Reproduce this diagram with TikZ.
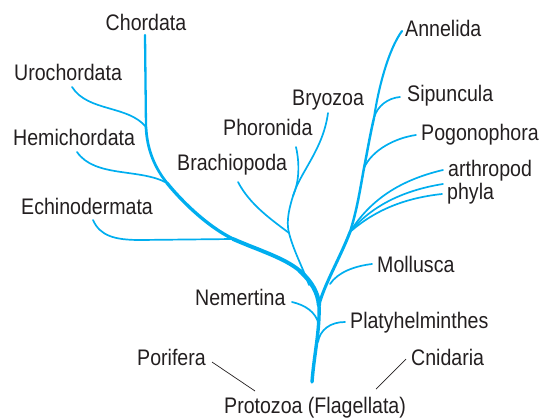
\documentclass[tikz,border=0pt]{standalone}
\usepackage{fontspec}
\setmainfont{Liberation Sans}[FakeStretch=0.87]
\definecolor{branch}{RGB}{0,174,239}
\definecolor{ink}{RGB}{35,31,32}
\begin{document}
\begin{tikzpicture}[x=1pt,y=-1pt,
  lbl/.style={inner sep=0pt, text=ink, font=\fontsize{22.5}{25}\selectfont},
  br/.style={draw=branch, line width=1.7pt, line cap=round, line join=round},
  pointer/.style={draw=ink, line width=0.7pt}]
\useasboundingbox (0,0) rectangle (541,418);

% labels
\node[lbl, anchor=base] (chord) at (146,30) {Chordata};
\node[lbl, anchor=base west] (uro) at (14,80.5) {Urochordata};
\node[lbl, anchor=base west] (hemi) at (13,145) {Hemichordata};
\node[lbl, anchor=base west] (echi) at (21,214) {Echinodermata};
\node[lbl, anchor=base west] (brach) at (177,170) {Brachiopoda};
\node[lbl, anchor=base west] (phor) at (223,135) {Phoronida};
\node[lbl, anchor=base west] (bryo) at (292,105) {Bryozoa};
\node[lbl, anchor=base west] (anne) at (405,36) {Annelida};
\node[lbl, anchor=base west] (sipu) at (407,101) {Sipuncula};
\node[lbl, anchor=base west] (pogo) at (421,140) {Pogonophora};
\node[lbl, anchor=base west] (arth) at (448,176.5) {arthropod};
\node[lbl, anchor=base west] (phyl) at (447,199) {phyla};
\node[lbl, anchor=base west] (moll) at (377,272) {Mollusca};
\node[lbl, anchor=base west] (neme) at (195,305) {Nemertina};
\node[lbl, anchor=base west] (plat) at (350,328) {Platyhelminthes};
\node[lbl, anchor=base west] (cnid) at (411,365) {Cnidaria};
\node[lbl, anchor=base west] (pori) at (137,365) {Porifera};
\node[lbl, anchor=base west] (prot) at (224,413) {Protozoa (Flagellata)};

% junctions and branch ends
\coordinate (top) at (145,35);
\coordinate (uj) at (146,127);
\coordinate (hj) at (167,183);
\coordinate (ej) at (233,239);
\coordinate (bj) at (309,285);
\coordinate (jn) at (319,305);
\coordinate (nj) at (318.5,324);
\coordinate (pj) at (318,342);
\coordinate (base) at (312,382);
\coordinate (mj) at (330,284);
\coordinate (aj) at (350,232);
\coordinate (gj) at (364,168);
\coordinate (sj) at (374,118);
\coordinate (ann) at (402,31);
\coordinate (brj) at (289,233);
\coordinate (pjn) at (293,196);

\coordinate (uroE) at (72,87);
\coordinate (hemiE) at (77,152);
\coordinate (echiE) at (93,220);
\coordinate (brachE) at (238,182);
\coordinate (phorE) at (296,147);
\coordinate (bryoE) at (328,113);
\coordinate (sipuE) at (400,97);
\coordinate (pogoE) at (416,135);
\coordinate (arthE1) at (443,170);
\coordinate (arthE2) at (443,184);
\coordinate (arthE3) at (442,194);
\coordinate (mollE) at (372,264);
\coordinate (nemeE) at (292,302);
\coordinate (platE) at (345,322);
\coordinate (poriE) at (212,362);
\coordinate (poriT) at (255,391);
\coordinate (cnidE) at (406,359);
\coordinate (cnidT) at (376,389);

% thick chordate branch (tapering)
\draw[br, line width=2.3pt] (top) -- (uj);
\draw[br, line width=2.7pt] (uj) .. controls (147,150) and (155,168) .. (hj);
\draw[br, line width=3.3pt] (hj) .. controls (180,199) and (205,225) .. (ej);
\draw[br, line width=3.9pt] (ej) .. controls (258,250) and (285,258) .. (300,271);
\draw[br, line width=4.4pt] (300,271) .. controls (312,282) and (318,293) .. (jn);
% trunk
\draw[br, line width=3.4pt] (jn) .. controls (320,330) and (314,355) .. (base);
% right branch
\draw[br, line width=3pt] (jn) .. controls (324,285) and (340,258) .. (aj);
\draw[br, line width=2.5pt] (aj) .. controls (357,210) and (360,190) .. (gj)
  .. controls (368,148) and (370,135) .. (sj);
\draw[br, line width=2.1pt] (sj) .. controls (378,90) and (388,50) .. (ann);

% side branches
\draw[br] (uroE) .. controls (88,112) and (128,105) .. (uj);
\draw[br] (hemiE) .. controls (95,178) and (140,168) .. (hj);
\draw[br] (echiE) .. controls (100,236) and (115,240) .. (140,240) -- (ej);
\draw[br] (brachE) .. controls (250,205) and (272,220) .. (brj);
\draw[br] (bryoE) .. controls (323,150) and (300,172) .. (pjn)
  .. controls (287,215) and (287,225) .. (brj)
  .. controls (294,252) and (303,268) .. (bj);
\draw[br] (phorE) .. controls (300,165) and (299,182) .. (pjn);
\draw[br] (sipuE) .. controls (388,98) and (377,106) .. (sj);
\draw[br] (pogoE) .. controls (395,138) and (372,150) .. (gj);
\draw[br] (aj) .. controls (370,200) and (400,180) .. (arthE1);
\draw[br] (aj) .. controls (372,205) and (405,190) .. (arthE2);
\draw[br] (aj) .. controls (375,210) and (405,198) .. (arthE3);
\draw[br] (mollE) .. controls (355,266) and (338,272) .. (mj);
\draw[br] (platE) .. controls (330,322) and (320,330) .. (pj);
\draw[br] (nemeE) .. controls (305,305) and (316,312) .. (nj);

% pointers
\draw[pointer] (poriE) -- (poriT);
\draw[pointer] (cnidE) -- (cnidT);
\end{tikzpicture}
\end{document}
